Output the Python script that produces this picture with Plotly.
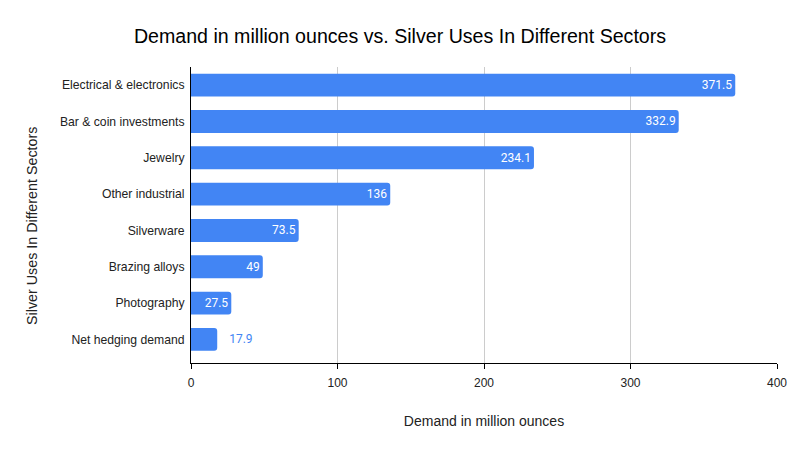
import plotly.graph_objects as go

categories = ["Electrical & electronics", "Bar & coin investments", "Jewelry",
              "Other industrial", "Silverware", "Brazing alloys", "Photography",
              "Net hedging demand"]
values = [371.5, 332.9, 234.1, 136, 73.5, 49, 27.5, 17.9]
labels = ["371.5", "332.9", "234.1", "136", "73.5", "49", "27.5", "   17.9"]

blue = "#4285F4"
positions = ["inside"] * 7 + ["outside"]
text_colors = ["white"] * 7 + [blue]

fig = go.Figure(go.Bar(
    y=categories, x=values, orientation="h",
    marker=dict(color=blue, line=dict(width=0)),
    text=labels, textposition=positions, insidetextanchor="end",
    textfont=dict(color=text_colors, family="Roboto", size=12),
    cliponaxis=False,
))

fig.update_layout(
    width=800, height=450,
    margin=dict(l=191, r=23, t=67, b=87),
    paper_bgcolor="white", plot_bgcolor="white",
    barcornerradius=3,
    bargap=0.37,
    title=dict(text="Demand in million ounces vs. Silver Uses In Different Sectors",
               x=0.5, xanchor="center", y=1 - 36/450, yanchor="middle",
               font=dict(family="Liberation Sans, Arial", size=19.6, color="black")),
    xaxis=dict(range=[0, 400], tickvals=[0, 100, 200, 300, 400],
               showgrid=True, gridcolor="#cccccc", gridwidth=1,
               showline=True, linecolor="black", linewidth=1,
               ticks="outside", ticklen=5, tickcolor="black",
               zeroline=False, ticklabelstandoff=4,
               tickfont=dict(family="Liberation Sans, Arial", size=12, color="#222222"),
               title=dict(text="Demand in million ounces", standoff=26,
                          font=dict(family="Liberation Sans, Arial", size=14, color="#222222"))),
    yaxis=dict(range=[7.65, -0.5], showline=True, linecolor="black", linewidth=1,
               ticks="", ticklabelstandoff=3,
               tickfont=dict(family="Liberation Sans, Arial", size=12.2, color="#222222")),
    annotations=[dict(text="Silver Uses In Different Sectors", textangle=-90,
                      xref="paper", yref="paper", x=(32 - 191) / 586, y=(363 - 226) / 296,
                      xanchor="center", yanchor="middle", showarrow=False,
                      font=dict(family="Liberation Sans, Arial", size=14.3, color="#222222"))],
)

fig.write_html("out.html")
